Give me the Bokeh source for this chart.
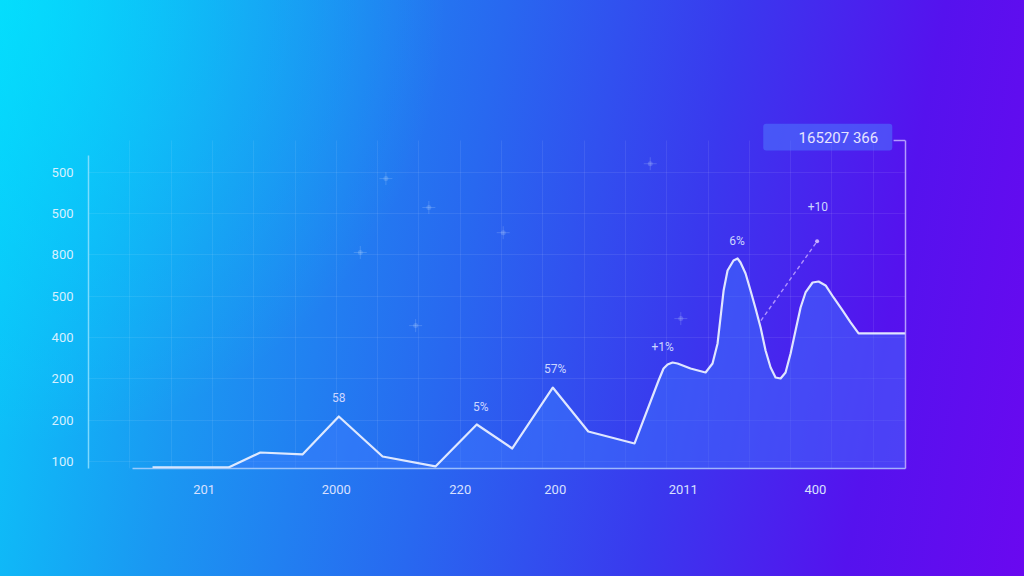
from bokeh.plotting import figure
from bokeh.models import (FixedTicker, LinearAxis, Label, BoxAnnotation,
                          ColumnDataSource, Grid)
from bokeh.embed import file_html
from bokeh.resources import INLINE
from bokeh.core.properties import value

# ---------------- data ----------------
y_ticks = [100, 200, 300, 400, 500, 600, 700, 800]
y_tick_labels = ["100", "200", "200", "400", "500", "800", "500", "500"]

x_ticks = [9, 25, 40, 51.5, 67, 83]
x_tick_labels = ["201", "2000", "220", "200", "2011", "400"]

series_x = [2.75, 11.95, 15.8, 20.9, 25.3, 30.6, 37.0, 42.0, 46.3, 51.2, 55.5,
            61.10, 64.01, 64.61, 65.10, 65.70, 66.31, 67.88, 69.70, 70.54,
            71.15, 71.51, 71.88, 72.36, 73.08, 73.57, 73.93, 74.54, 75.14,
            75.75, 76.36, 76.96, 77.57, 78.17, 78.78, 79.38, 79.99, 80.59,
            81.20, 81.80, 82.65, 83.38, 84.23, 85.19, 86.28, 87.25, 88.22,
            93.91]
series_y = [85.5, 85.5, 121.8, 117, 209, 112, 88, 189.6, 131.5, 279, 172.6,
            143.6, 296.1, 325.2, 334.9, 339.7, 337.3, 325.2, 315.5, 337.3,
            385.7, 448.7, 514.0, 562.5, 586.7, 591.5, 581.8, 555.2, 514.0,
            470.5, 424.5, 368.8, 327.6, 303.4, 301.0, 315.5, 361.5, 417.2,
            472.9, 509.2, 533.4, 535.8, 526.2, 497.1, 465.6, 436.6, 410.0,
            410.0]

point_labels = ["58", "5%", "57%", "+1%", "6%", "+10"]
label_x = [25.3, 42.5, 51.5, 64.5, 73.5, 83.3]
label_y = [255, 231, 323, 376, 635, 717]

trend_x = [76.4, 83.2]
trend_y = [441, 633]

badge_text = "165207 366"

sparkle_x = [45.2, 27.9, 34.6, 66.7, 31.0, 36.2, 63.0]
sparkle_y = [654, 606, 429, 446, 785, 715, 821]

# ---------------- ranges ----------------
X0, X1 = -5, 93.9
Y0, Y1 = 83, 930.5
baseline = 83
Y_AXIS_TOP = 841
RIGHT_TOP = 877.5

FONT = "Roboto"

p = figure(width=1008, height=560, output_backend="svg", toolbar_location=None,
           x_range=(X0, X1), y_range=(Y0, Y1),
           min_border_left=80, min_border_right=111,
           min_border_top=110, min_border_bottom=100,
           x_axis_type=None, y_axis_type=None)
p.background_fill_alpha = 0
p.border_fill_alpha = 0
p.outline_line_color = None

# ---- axes ----
yax = LinearAxis(ticker=FixedTicker(ticks=y_ticks))
yax.major_label_overrides = {t: l for t, l in zip(y_ticks, y_tick_labels)}
yax.bounds = (Y0, Y_AXIS_TOP)
yax.axis_line_color = "#8fe2ff"
yax.axis_line_alpha = 0.85
yax.axis_line_width = 1.5
yax.major_tick_line_color = None
yax.minor_tick_line_color = None
yax.major_label_standoff = 9
yax.major_label_text_color = "#d6f0ff"
yax.major_label_text_font = FONT
yax.major_label_text_font_size = "13px"
p.add_layout(yax, "left")

xax = LinearAxis(ticker=FixedTicker(ticks=x_ticks))
xax.major_label_overrides = {t: l for t, l in zip(x_ticks, x_tick_labels)}
xax.bounds = (0.3, X1)
xax.axis_line_color = "#b8d4ff"
xax.axis_line_alpha = 0.8
xax.axis_line_width = 1.5
xax.major_tick_line_color = None
xax.minor_tick_line_color = None
xax.major_label_standoff = 10
xax.major_label_text_color = "#d8e0ff"
xax.major_label_text_font = FONT
xax.major_label_text_font_size = "13px"
p.add_layout(xax, "below")

rax = LinearAxis(ticker=FixedTicker(ticks=[]))
rax.bounds = (Y0, RIGHT_TOP)
rax.axis_line_color = "#c4b4ff"
rax.axis_line_alpha = 0.85
rax.axis_line_width = 1.5
rax.major_tick_line_color = None
rax.minor_tick_line_color = None
p.add_layout(rax, "right")
# short stub at the top of the right-hand line
p.segment(x0=[92.46], y0=[RIGHT_TOP], x1=[X1], y1=[RIGHT_TOP],
          line_color="#c4b4ff", line_alpha=0.85, line_width=1.5)

# ---- grid ----
xgrid = Grid(dimension=0, ticker=FixedTicker(ticks=list(range(0, 95, 5))),
             grid_line_color="#ffffff", grid_line_alpha=0.08,
             cross_bounds=(Y0, RIGHT_TOP))
ygrid = Grid(dimension=1, ticker=FixedTicker(ticks=y_ticks),
             grid_line_color="#ffffff", grid_line_alpha=0.08)
p.add_layout(xgrid)
p.add_layout(ygrid)

# ---- sparkles ----
p.scatter(sparkle_x, sparkle_y, marker="cross", size=13, line_color="#cfe6ff",
          line_alpha=0.2, line_width=1)
p.scatter(sparkle_x, sparkle_y, marker="circle", size=5, fill_color="#e0f0ff",
          fill_alpha=0.18, line_color=None)

# ---- area + line ----
src = ColumnDataSource(dict(x=series_x, y=series_y,
                            b=[baseline] * len(series_x)))
p.varea(x="x", y1="b", y2="y", source=src, fill_color="#3f7dff",
        fill_alpha=0.45)
p.line(x="x", y="y", source=src, line_color="#e8eeff", line_width=2.2,
       line_alpha=0.95, line_join="round")

# ---- dashed trend ----
p.line(trend_x, trend_y, line_color="#b99cff", line_width=1.4,
       line_dash="4 3", line_alpha=0.9)
p.scatter([trend_x[1]], [trend_y[1]], marker="circle", size=4,
          fill_color="#c8b0ff", line_color=None)

# ---- point labels ----
p.text(x=label_x, y=label_y, text=point_labels, text_align="center",
       text_baseline="middle", text_color="#ccd6ff",
       text_font=value(FONT), text_font_size="12px")

# ---- badge ----
p.add_layout(BoxAnnotation(left=76.68, right=92.3, bottom=853, top=917.7,
                           fill_color="#4f78ff", fill_alpha=0.55,
                           line_color=None, border_radius=3))
p.add_layout(Label(x=80.96, y=882.8, text=badge_text, text_align="left",
                   text_baseline="middle", text_color="#e6e4ff",
                   text_font=FONT, text_font_size="15px"))

template = """
{% block preamble %}
<style>
html, body {
  background: radial-gradient(circle at 0% 0%, rgba(0,235,255,0.55) 0%, rgba(0,235,255,0) 38%),
              linear-gradient(100deg, #08cefb 0%, #1a98f2 22%, #2868f0 45%, #3a38ee 66%, #5512ee 84%, #6a08f0 100%);
  background-attachment: fixed;
  min-height: 100%;
}
body { padding: 8px !important; box-sizing: border-box; }
</style>
{% endblock %}
"""

open("out.html", "w").write(file_html(p, INLINE, template=template))
